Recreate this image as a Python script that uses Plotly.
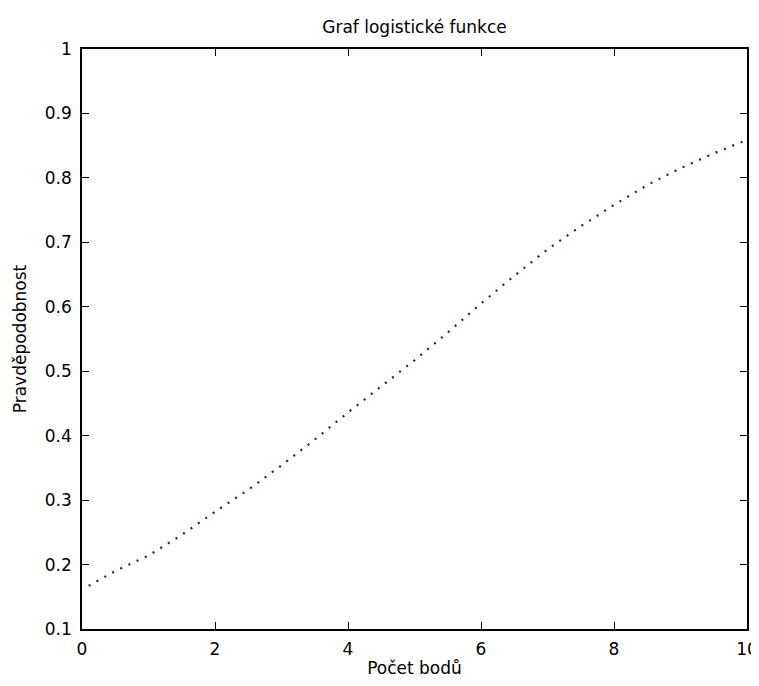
import plotly.graph_objects as go

# Data
x_points = [0.1, 0.5, 1.0, 1.5, 2.0, 2.5, 3.0, 3.5, 4.0, 4.5, 5.0,
            5.5, 6.0, 6.5, 7.0, 7.5, 8.0, 8.5, 9.0, 9.5, 10.0]
probability = [0.167, 0.190, 0.214, 0.246, 0.282, 0.316, 0.354, 0.394, 0.436, 0.476, 0.517,
               0.560, 0.605, 0.648, 0.689, 0.725, 0.758, 0.789, 0.815, 0.838, 0.859]

x_ticks = [0, 2, 4, 6, 8, 10]
y_ticks = [0.1, 0.2, 0.3, 0.4, 0.5, 0.6, 0.7, 0.8, 0.9, 1.0]
y_tick_labels = ["0.1", "0.2", "0.3", "0.4", "0.5", "0.6", "0.7", "0.8", "0.9", "1"]

title_text = "Graf logistické funkce"
x_title = "Počet bodů"
y_title = "Pravděpodobnost"

FONT = "DejaVu Sans"
W, H = 751, 670  # fits inside the page body (8px margin) without scrolling

fig = go.Figure()
fig.add_trace(go.Scatter(
    x=x_points, y=probability, mode="lines",
    line=dict(color="#1c1c86", width=2.2, dash="2px,7px"),
    showlegend=False, hoverinfo="skip",
))

axis_common = dict(
    showgrid=False, zeroline=False, showline=True, linecolor="black", linewidth=1.5,
    mirror="ticks", ticks="inside", ticklen=7, tickwidth=1.3, tickcolor="black",
    tickfont=dict(family=FONT, size=17, color="black"),
)

fig.update_xaxes(range=[0, 10], tickvals=x_ticks, ticklabelstandoff=4,
                 title=dict(text=x_title, font=dict(family=FONT, size=17, color="black"), standoff=7),
                 **axis_common)
fig.update_yaxes(range=[0.1, 1.0], tickvals=y_ticks, ticktext=y_tick_labels, ticklabelstandoff=5,
                 title=dict(text=y_title, font=dict(family=FONT, size=17, color="black"), standoff=14),
                 **axis_common)

fig.update_layout(
    width=W, height=H,
    margin=dict(l=74, r=12, t=41, b=49, autoexpand=False),
    paper_bgcolor="white", plot_bgcolor="white",
    title=dict(text=title_text, font=dict(family=FONT, size=17, color="black"),
               x=(74 + 739) / 2 / W, xanchor="center",
               y=1 - 19 / H, yanchor="middle", yref="container"),
)

fig.write_html("out.html")
